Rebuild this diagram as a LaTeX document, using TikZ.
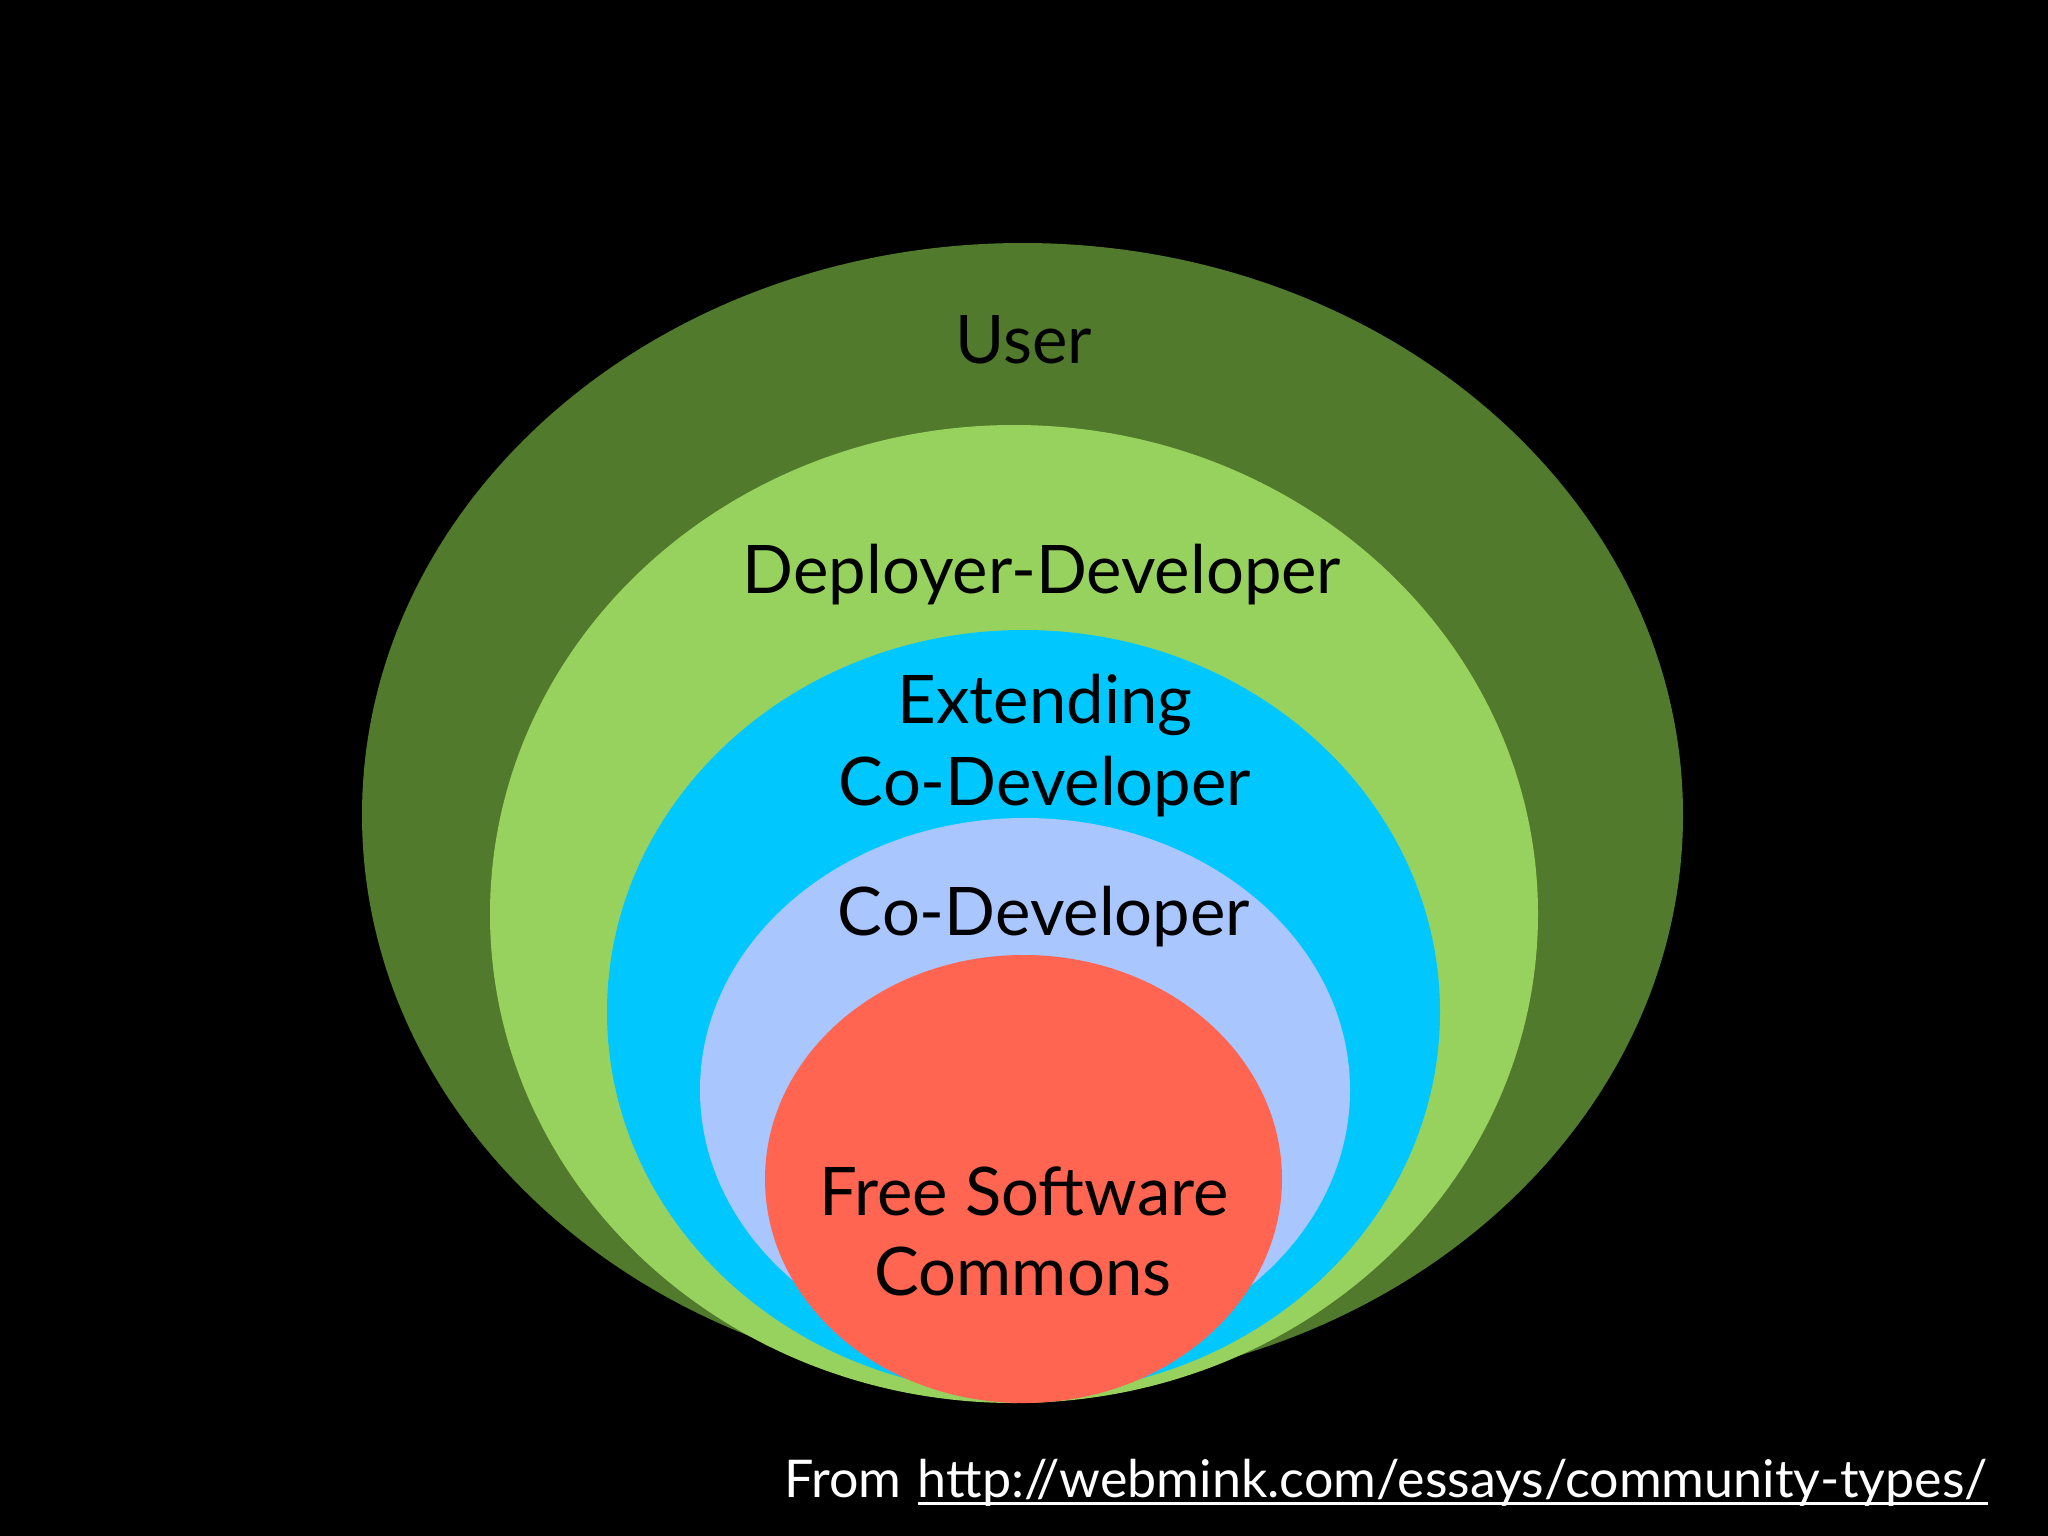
\documentclass[tikz,border=0pt]{standalone}
\usepackage{fontspec}
\setmainfont{Lato}
\usetikzlibrary{calc}
\definecolor{darkgr}{HTML}{517A2C}
\definecolor{lightgr}{HTML}{97D25F}
\definecolor{cyanb}{HTML}{00C8FF}
\definecolor{lavend}{HTML}{A9C6FF}
\definecolor{redor}{HTML}{FF6550}
\tikzset{
  lbl/.style={text=black, font=\fontsize{67}{80}\selectfont, inner sep=0pt, align=center},
  foot/.style={text=white, font=\fontsize{52}{62}\selectfont, inner sep=0pt},
}
\begin{document}
\begin{tikzpicture}[x=1pt,y=-1pt]
\fill[black] (0,0) rectangle (2048,1536);
\useasboundingbox (0,0) rectangle (2048,1536);
\fill[darkgr] (1022.5,815) ellipse [x radius=660.5, y radius=572];
\fill[lightgr] (1014,914) ellipse [x radius=524, y radius=489];
\fill[cyanb] (1023.5,1012) ellipse [x radius=416.5, y radius=382];
\fill[lavend] (1025,1090) ellipse [x radius=325, y radius=272];
\fill[redor] (1023.5,1179) ellipse [x radius=258.5, y radius=224];
\node[lbl, anchor=base] (user) at (1024,363) {User};
\node[lbl, anchor=base] (depdev) at (1042,593) {Deployer-Developer};
\node[lbl, anchor=base] (ext1) at (1045,723) {Extending};
\node[lbl, anchor=base] (ext2) at (1045,805) {Co-Developer};
\node[lbl, anchor=base] (codev) at (1044,935) {Co-Developer};
\node[lbl, anchor=base] (fsc1) at (1024,1215) {Free Software};
\node[lbl, anchor=base] (fsc2) at (1023,1295) {Commons};
\node[foot, anchor=base east] (url) at (1988,1497) {http://webmink.com/essays/community-types/};
\node[foot, anchor=base east] (from) at ($(url.base west)+(-16,0)$) {From};
\draw[white, line width=3pt] ($(url.base west)+(0,6)$) -- ($(url.base east)+(0,6)$);
\end{tikzpicture}
\end{document}
